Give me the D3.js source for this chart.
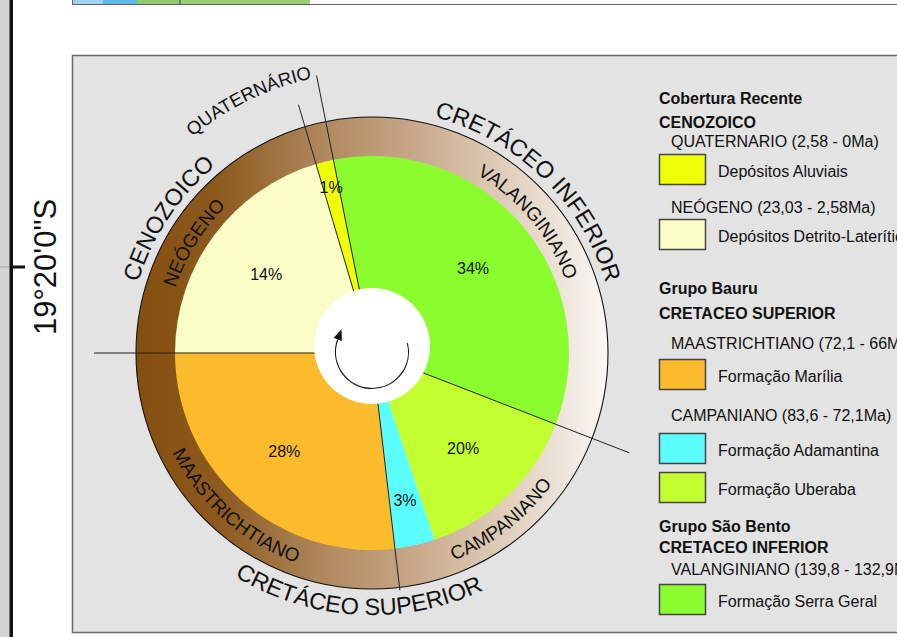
<!DOCTYPE html>
<html>
<head>
<meta charset="utf-8">
<script src="https://cdn.jsdelivr.net/npm/d3@7"></script>
<style>
html, body { margin: 0; padding: 0; background: #fff; overflow: hidden; }
svg { display: block; font-family: "Liberation Sans", Arial, sans-serif; }
</style>
</head>
<body>
<div class="chart"></div>
<script>
// fatias da roda (ângulos, em graus) e rótulos impressos
const formations = ["Depósitos Detrito-Lateríticos", "Depósitos Aluviais", "Formação Serra Geral",
  "Formação Uberaba", "Formação Adamantina", "Formação Marília"];
const sliceDegrees = [73.5, 5.2, 122.5, 50.3, 11.8, 96.7];
const pctLabels = ["14%", "1%", "34%", "20%", "3%", "28%"];
const sliceColors = ["#fafdc6", "#effe04", "#8bfd2f", "#c2fe30", "#5bfefe", "#fcbb2a"];

// idades (anel) e eras (fora do anel), com as fatias que cobrem
const ageNames = ["NEÓGENO", "VALANGINIANO", "CAMPANIANO", "MAASTRICHTIANO"];
const ageSlices = [[0], [2], [3, 4], [5]];
const eraNames = ["CENOZOICO", "QUATERNÁRIO", "CRETÁCEO INFERIOR", "CRETÁCEO SUPERIOR"];
const eraSlices = [[0, 1], [1], [2], [3, 4, 5]];

// legenda
const legendKinds = ["head", "head", "age", "swatch", "age", "swatch", "head", "head", "age", "swatch",
  "age", "swatch", "swatch", "head", "head", "age", "swatch"];
const legendTexts = ["Cobertura Recente", "CENOZOICO", "QUATERNARIO (2,58 - 0Ma)", 1, "NEÓGENO (23,03 - 2,58Ma)", 0,
  "Grupo Bauru", "CRETACEO SUPERIOR", "MAASTRICHTIANO (72,1 - 66Ma)", 5, "CAMPANIANO (83,6 - 72,1Ma)", 4, 3,
  "Grupo São Bento", "CRETACEO INFERIOR", "VALANGINIANO (139,8 - 132,9Ma)", 2];

// ---- layout ----
const W = 897, H = 637;
const cx = 372, cy = 353, rPie = 197, rRing = 236;
const legendY = [98, 122, 141, 154, 207, 219, 288, 313, 343, 359, 415, 433, 472, 526, 547, 569, 584];
const dividerReach = { 0: 278, 1: 259, 2: 283, 3: 276, 5: 239 };
const eraNudge = [-5.9, -12.1, -5.9, -7.4];
const ageNudge = [-5, 0, 0, 0];
const rad = Math.PI / 180;

const svg = d3.select(".chart").append("svg")
  .attr("width", W)
  .attr("height", H);

// margem da folha à esquerda
svg.append("rect").attr("x", 0).attr("y", 0).attr("width", 10).attr("height", H).attr("fill", "#d4d4d4");
svg.append("line").attr("x1", 0).attr("x2", 10).attr("y1", 267).attr("y2", 267)
  .attr("stroke", "#999").attr("stroke-width", 1);
svg.append("rect").attr("x", 9.5).attr("y", 0).attr("width", 3.5).attr("height", H).attr("fill", "#111");
svg.append("rect").attr("x", 13).attr("y", 265.5).attr("width", 12).attr("height", 3).attr("fill", "#111");
svg.append("text")
  .attr("transform", "translate(45,267) rotate(-90)")
  .attr("text-anchor", "middle")
  .attr("dominant-baseline", "central")
  .attr("font-size", 31)
  .attr("fill", "#111")
  .text("19°20'0\"S");

// faixa superior (legenda vizinha cortada)
[[72, 103, "#a0d3ef"], [103, 137, "#5bbbe8"], [137, 180, "#8ec96b"], [180, 310, "#9acd74"]].forEach(function (s) {
  svg.append("rect").attr("x", s[0]).attr("y", 0).attr("width", s[1] - s[0]).attr("height", 4).attr("fill", s[2]);
});
svg.append("line").attr("x1", 180).attr("x2", 180).attr("y1", 0).attr("y2", 4).attr("stroke", "#444");
svg.append("line").attr("x1", 72).attr("x2", W).attr("y1", 4.5).attr("y2", 4.5).attr("stroke", "#666");
svg.append("line").attr("x1", 72.5).attr("x2", 72.5).attr("y1", 0).attr("y2", 4.5).attr("stroke", "#666");

// painel
svg.append("rect")
  .attr("x", 72.5).attr("y", 55.5)
  .attr("width", 900).attr("height", 577)
  .attr("fill", "#e3e3e3")
  .attr("stroke", "#6a6a6a")
  .attr("stroke-width", 1.5);

// gradiente do anel (coordenadas do grupo centrado)
const defs = svg.append("defs");
const grad = defs.append("linearGradient")
  .attr("id", "ringGrad")
  .attr("gradientUnits", "userSpaceOnUse")
  .attr("x1", -rRing).attr("x2", rRing)
  .attr("y1", 0).attr("y2", 0);
[[0, "#844e0e"], [0.18, "#8d5a1f"], [0.39, "#ae875c"], [0.56, "#c4a282"],
 [0.7, "#d6bfa6"], [0.88, "#ebe0d4"], [1, "#faf8f6"]].forEach(function (s) {
  grad.append("stop").attr("offset", s[0]).attr("stop-color", s[1]);
});

const marker = defs.append("marker")
  .attr("id", "arrowHead")
  .attr("markerUnits", "userSpaceOnUse")
  .attr("markerWidth", 12).attr("markerHeight", 12)
  .attr("viewBox", "0 -5 12 10")
  .attr("refX", 0).attr("refY", 0)
  .attr("orient", "auto");
marker.append("path").attr("d", "M0,-4.5L11,0L0,4.5Z").attr("fill", "#111");

const g = svg.append("g").attr("transform", "translate(" + cx + "," + cy + ")");

// anel
g.append("path")
  .attr("d", d3.arc().innerRadius(rPie - 1).outerRadius(rRing)({ startAngle: 0, endAngle: 2 * Math.PI }))
  .attr("fill", "url(#ringGrad)");
g.append("circle").attr("r", rRing).attr("fill", "none").attr("stroke", "#111").attr("stroke-width", 1.1);

// pizza
const pie = d3.pie().sort(null).value(d => d)
  .startAngle(-Math.PI / 2).endAngle(1.5 * Math.PI);
const arcs = pie(sliceDegrees);
const arc = d3.arc().innerRadius(0).outerRadius(rPie);

g.selectAll("path.slice")
  .data(arcs)
  .enter()
  .append("path")
  .attr("class", "slice")
  .attr("d", arc)
  .attr("fill", (d, i) => sliceColors[i]);

// linhas divisórias
function pt(a, r) { return [r * Math.sin(a), -r * Math.cos(a)]; }
g.selectAll("line.div")
  .data(arcs.filter((d, i) => dividerReach[i] !== undefined))
  .enter()
  .append("line")
  .attr("class", "div")
  .attr("x1", 0).attr("y1", 0)
  .attr("x2", d => pt(d.startAngle, dividerReach[d.index])[0])
  .attr("y2", d => pt(d.startAngle, dividerReach[d.index])[1])
  .attr("stroke", "#222")
  .attr("stroke-width", 1);

// rótulos de percentagem
g.selectAll("text.pct")
  .data(arcs)
  .enter()
  .append("text")
  .attr("class", "pct")
  .attr("transform", function (d) {
    const span = (d.endAngle - d.startAngle) / rad;
    const r = span < 8 ? 170 : (span < 20 ? 151 : 132);
    const p = pt((d.startAngle + d.endAngle) / 2, r);
    return "translate(" + p[0] + "," + p[1] + ")";
  })
  .attr("text-anchor", "middle")
  .attr("dominant-baseline", "central")
  .attr("font-size", 16)
  .attr("fill", "#111")
  .text((d, i) => pctLabels[i]);

// miolo branco com a seta
g.append("circle").attr("cx", 0).attr("cy", -7).attr("r", 58).attr("fill", "#fff");
const arrowPath = d3.path();
arrowPath.arc(0, -1, 36.5, (76 - 90) * rad, (290 - 90) * rad, false);
g.append("path")
  .attr("d", arrowPath.toString())
  .attr("fill", "none")
  .attr("stroke", "#111")
  .attr("stroke-width", 1.2)
  .attr("marker-end", "url(#arrowHead)");

// textos curvos
function groupMid(idx) {
  const a0 = arcs[idx[0]].startAngle, a1 = arcs[idx[idx.length - 1]].endAngle;
  return (a0 + a1) / 2 / rad;
}
function curvedText(id, name, centerDeg, rTop, rBottom, size) {
  const c = ((centerDeg % 360) + 360) % 360;
  const bottom = c > 90 && c < 270;
  const p = d3.path();
  if (bottom) {
    p.arc(0, 0, rBottom, c * rad, (c - 180) * rad, true);
  } else {
    p.arc(0, 0, rTop, (c - 180) * rad, c * rad, false);
  }
  g.append("path").attr("id", id).attr("d", p.toString()).attr("fill", "none");
  g.append("text")
    .attr("font-size", size)
    .attr("fill", "#111")
    .append("textPath")
    .attr("href", "#" + id)
    .attr("startOffset", "50%")
    .attr("text-anchor", "middle")
    .text(name);
}

ageNames.forEach(function (n, i) {
  curvedText("age" + i, n, groupMid(ageSlices[i]) + ageNudge[i], 207, 223, 19);
});
eraNames.forEach(function (n, i) {
  const small = n === "QUATERNÁRIO";
  curvedText("era" + i, n, groupMid(eraSlices[i]) + eraNudge[i], small ? 281 : 244, 262, small ? 18.5 : 23.5);
});

// legenda
const leg = svg.append("g");
legendKinds.forEach(function (k, i) {
  const y = legendY[i];
  if (k === "swatch") {
    const si = legendTexts[i];
    leg.append("rect")
      .attr("x", 659.5).attr("y", y + 0.5)
      .attr("width", 46).attr("height", 30)
      .attr("fill", sliceColors[si])
      .attr("stroke", "#444")
      .attr("stroke-width", 1.5);
    leg.append("text")
      .attr("x", 718).attr("y", y + 17)
      .attr("dominant-baseline", "central")
      .attr("font-size", 16)
      .attr("fill", "#111")
      .text(formations[si]);
  } else {
    leg.append("text")
      .attr("x", k === "head" ? 659 : 671)
      .attr("y", y)
      .attr("dominant-baseline", "central")
      .attr("font-size", 16)
      .attr("font-weight", k === "head" ? "bold" : "normal")
      .attr("fill", "#111")
      .text(legendTexts[i]);
  }
});
</script>
</body>
</html>
